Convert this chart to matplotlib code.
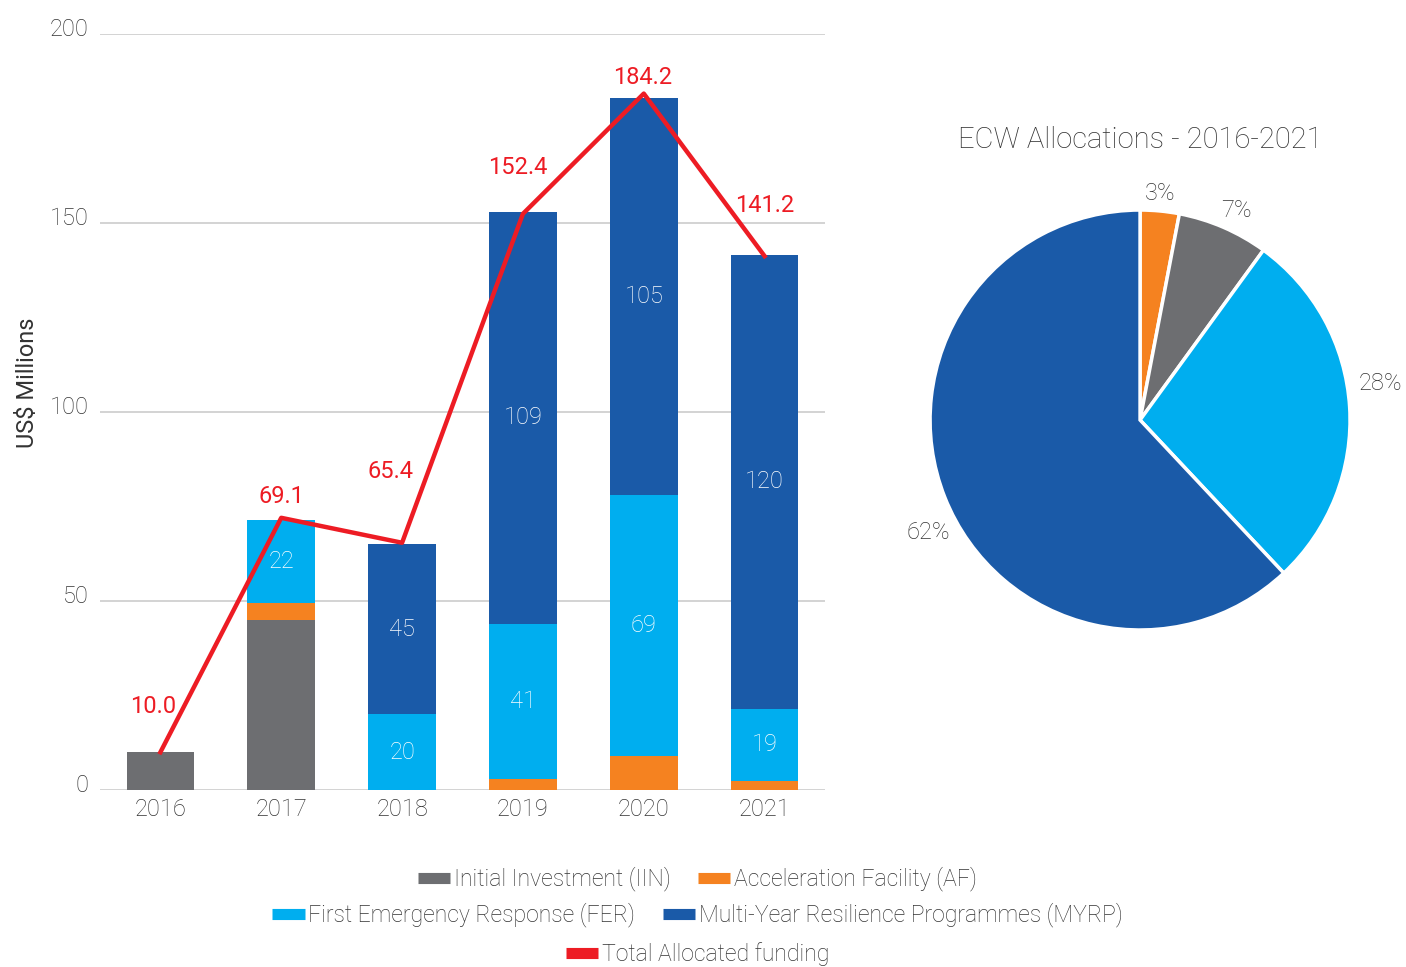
import numpy as np
import matplotlib
matplotlib.use('Agg')
from matplotlib import pyplot as plt
from matplotlib.lines import Line2D
import matplotlib.transforms as mtrans

plt.rcParams['font.family'] = ['Roboto', 'DejaVu Sans']
plt.rcParams['font.weight'] = 'light'

# data
years = ['2016', '2017', '2018', '2019', '2020', '2021']
iin = [10, 45, 0, 0, 0, 0]
af = [0, 4.5, 0, 3, 9, 2.5]
fer = [0, 22, 20, 41, 69, 19]
myrp = [0, 0, 45, 109, 105, 120]
fer_lbl = ['', '22', '20', '41', '69', '19']
myrp_lbl = ['', '', '45', '109', '105', '120']
total_line = [10.0, 72.0, 65.4, 152.4, 184.2, 141.2]
total_lbl = ['10.0', '69.1', '65.4', '152.4', '184.2', '141.2']

pie_share = [3, 7, 28, 62]   # AF, IIN, FER, MYRP

c_iin = '#6d6e71'
c_af = '#f58220'
c_fer = '#00aeef'
c_myrp = '#1a5aa8'
c_red = '#ed1c24'
c_txt = '#333333'

fig = plt.figure(figsize=(14.06, 9.67), dpi=100)

# ---- bar chart
ax = fig.add_axes([0.0711, 0.183, 0.5157, 0.782])
x = np.arange(len(years))
w = 0.56
b0 = np.zeros(len(years))
ax.bar(x, iin, w, bottom=b0, color=c_iin, zorder=2)
b0 += iin
ax.bar(x, af, w, bottom=b0, color=c_af, zorder=2)
b0 += af
bf = ax.bar(x, fer, w, bottom=b0, color=c_fer, zorder=2)
b0 += fer
bm = ax.bar(x, myrp, w, bottom=b0, color=c_myrp, zorder=2)
ax.bar_label(bf, labels=fer_lbl, label_type='center', color='white', fontsize=17)
ax.bar_label(bm, labels=myrp_lbl, label_type='center', color='white', fontsize=17)

ax.plot(x, total_line, color=c_red, lw=3.2, zorder=3)
lbl_off = [(-5, 25), (0, 7), (-8, 43), (-4, 25), (-1, 3), (0, 28)]
for i in range(len(years)):
    ax.annotate(total_lbl[i], (x[i], total_line[i]), xytext=lbl_off[i],
                textcoords='offset points', ha='center', va='bottom',
                color=c_red, fontsize=17, fontweight='normal')

ax.set_xlim(-0.5, 5.5)
ax.set_ylim(0, 200)
ax.set_yticks([0, 50, 100, 150, 200])
ax.set_xticks(x, years)
ax.grid(axis='y', color='#d0d0d0', lw=1.3, zorder=0)
for s in ax.spines.values():
    s.set_visible(False)
ax.tick_params(axis='both', length=0, labelsize=17, labelcolor=c_txt)
ax.tick_params(axis='y', pad=8)
ax.tick_params(axis='x', pad=6)
up = mtrans.ScaledTranslation(0, 7 / 100, fig.dpi_scale_trans)
for lab in ax.get_yticklabels():
    lab.set_transform(lab.get_transform() + up)
ax.set_ylabel('US$ Millions', fontsize=17, color=c_txt)
ax.yaxis.set_label_coords(-0.084, 0.538)

# ---- pie chart
pax = fig.add_axes([0.6615, 0.3485, 0.2987, 0.4343])
wedges, texts = pax.pie(pie_share, colors=[c_af, c_iin, c_fer, c_myrp], startangle=90,
                        counterclock=False, labels=[f'{v}%' for v in pie_share],
                        radius=1, wedgeprops=dict(edgecolor='white', linewidth=2.5),
                        textprops=dict(fontsize=17, color=c_txt))
pie_lbl_pos = [(0.095, 1.081), (0.457, 1.0), (1.143, 0.176), (-1.01, -0.538)]
for t, p in zip(texts, pie_lbl_pos):
    t.set_position(p)
    t.set_ha('center')
    t.set_va('center')
pax.set_xlim(-1, 1)
pax.set_ylim(-1, 1)
pax.set_aspect('equal')
fig.text(0.811, 0.855, 'ECW Allocations - 2016-2021', ha='center', va='center',
         fontsize=21, color=c_txt)

# ---- legend rows
def hnd(c):
    return Line2D([], [], color=c, lw=8, solid_capstyle='butt')

rows = [
    ([hnd(c_iin), hnd(c_af)], ['Initial Investment (IIN)', 'Acceleration Facility (AF)'], 0.091),
    ([hnd(c_fer), hnd(c_myrp)], ['First Emergency Response (FER)', 'Multi-Year Resilience Programmes (MYRP)'], 0.054),
    ([hnd(c_red)], ['Total Allocated funding'], 0.013),
]
for h, l, yy in rows:
    fig.legend(h, l, loc='center', bbox_to_anchor=(0.496, yy), ncol=len(h),
               frameon=False, fontsize=16.6, handlelength=1.4,
               handletextpad=0.15, columnspacing=1.2, labelcolor=c_txt)

fig.savefig('out.png', dpi=100)
